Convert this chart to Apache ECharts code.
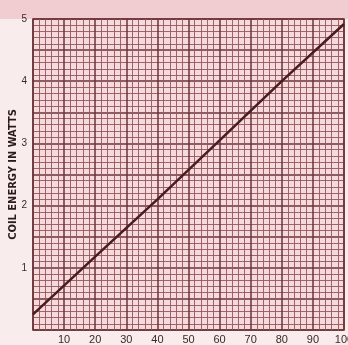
<!DOCTYPE html>
<html><head><meta charset="utf-8">
<script src="https://cdn.jsdelivr.net/npm/echarts@6/dist/echarts.min.js"></script>
<style>html,body{margin:0;padding:0;background:#f8ecec;}#c{width:348px;height:345px;}</style>
</head><body><div id="c"></div>
<script>
const xValues = [0, 20, 40, 60, 80, 100];
const energyWatts = [0.25, 1.18, 2.1, 3.05, 4.0, 4.92];
const xTickLabels = ['10','20','30','40','50','60','70','80','90','100'];
const yTickLabels = ['1','2','3','4','5'];
const yTitle = 'COIL ENERGY IN WATTS';

const chart = echarts.init(document.getElementById('c'), null, {renderer: 'canvas'});
const minorLine = {show: true, lineStyle: {color: '#93585b', width: 1, opacity: 0.9}};
chart.setOption({
  backgroundColor: '#f8ecec',
  animation: false,
  graphic: [
    {type: 'rect', shape: {x: 0, y: 0, width: 348, height: 19}, style: {fill: '#f1cdd1'}, z: -10},
    {type: 'rect', shape: {x: 33, y: 19, width: 311, height: 311}, style: {fill: '#f6d9dc'}, z: -5}
  ],
  grid: {left: 33, right: 4, top: 19, bottom: 15, containLabel: false, outerBoundsMode: 'none',
    show: true, borderColor: '#6b3336', borderWidth: 1.5, backgroundColor: 'transparent'},
  xAxis: {
    type: 'value', min: 0, max: 100, interval: 10,
    axisLine: {show: false}, axisTick: {show: false},
    axisLabel: {color: '#3a2a2a', fontSize: 11, fontFamily: 'Liberation Sans', margin: 4,
      formatter: v => (v === 0 ? '' : (xTickLabels[v / 10 - 1] || ''))},
    splitLine: {show: true, lineStyle: {color: '#6b3336', width: 1.5}},
    minorTick: {show: true, splitNumber: 5, length: 0},
    minorSplitLine: minorLine
  },
  yAxis: {
    type: 'value', min: 0, max: 5, interval: 0.5,
    axisLine: {show: false}, axisTick: {show: false},
    axisLabel: {color: '#3a2a2a', fontSize: 10, fontFamily: 'Liberation Sans', margin: 6,
      formatter: v => (v > 0 && Number.isInteger(v) ? yTickLabels[v - 1] : '')},
    splitLine: {show: true, lineStyle: {color: '#6b3336', width: 1.5}},
    minorTick: {show: true, splitNumber: 5, length: 0},
    minorSplitLine: minorLine,
    name: yTitle, nameLocation: 'middle', nameGap: 14, nameRotate: 90, nameMoveOverlap: false,
    nameTextStyle: {color: '#2a1a1a', fontSize: 11, fontWeight: 'bold', fontFamily: 'DejaVu Sans Condensed'}
  },
  series: [{
    type: 'line', data: xValues.map((x, i) => [x, energyWatts[i]]),
    showSymbol: false, lineStyle: {color: '#4a1c1e', width: 2.5}
  }]
});
</script></body></html>
